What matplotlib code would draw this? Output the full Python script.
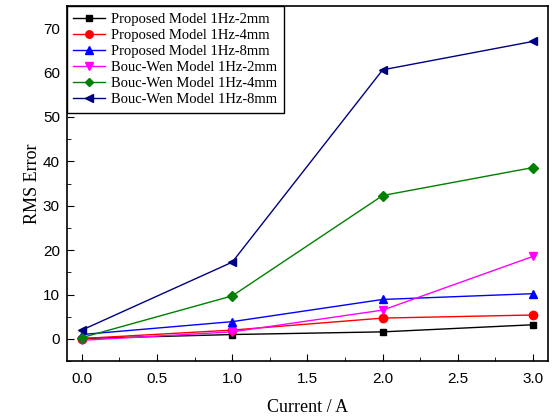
import numpy as np
import matplotlib.pyplot as plt
from matplotlib.ticker import MultipleLocator

current = [0.0, 1.0, 2.0, 3.0]

labels = ['Proposed Model 1Hz-2mm', 'Proposed Model 1Hz-4mm', 'Proposed Model 1Hz-8mm',
          'Bouc-Wen Model 1Hz-2mm', 'Bouc-Wen Model 1Hz-4mm', 'Bouc-Wen Model 1Hz-8mm']
prop_2mm = [0.1, 1.0, 1.6, 3.2]
prop_4mm = [0.1, 2.0, 4.7, 5.4]
prop_8mm = [1.0, 3.9, 8.9, 10.2]
bw_2mm = [-0.3, 1.6, 6.5, 18.6]
bw_4mm = [0.3, 9.7, 32.3, 38.6]
bw_8mm = [2.0, 17.3, 60.6, 67.0]

series = [prop_2mm, prop_4mm, prop_8mm, bw_2mm, bw_4mm, bw_8mm]
colors = ['black', 'red', 'blue', 'magenta', 'green', 'navy']
markers = ['s', 'o', '^', 'v', 'D', '<']
msizes = [5, 6, 6, 6, 5, 6]

fig = plt.figure(figsize=(5.52, 4.19), dpi=100)
ax = fig.add_axes([0.121, 0.138, 0.872, 0.848])

for vals, lab, c, m, ms in zip(series, labels, colors, markers, msizes):
    ax.plot(current, vals, color=c, marker=m, markersize=ms, linewidth=1, label=lab)

ax.set_xlim(-0.1, 3.1)
ax.set_ylim(-5, 75)
ax.xaxis.set_major_locator(MultipleLocator(0.5))
ax.xaxis.set_minor_locator(MultipleLocator(0.25))
ax.yaxis.set_major_locator(MultipleLocator(10))
ax.yaxis.set_minor_locator(MultipleLocator(5))
ax.tick_params(which='both', direction='in', top=False, right=False)
ax.tick_params(which='major', length=5, labelsize=11)
ax.tick_params(axis='x', which='major', pad=8)
ax.tick_params(axis='y', which='major', pad=5)
ax.tick_params(which='minor', length=3)
for lbl in ax.get_xticklabels() + ax.get_yticklabels():
    lbl.set_family('Liberation Sans')
for s in ax.spines.values():
    s.set_linewidth(1.2)

ax.set_xlabel('Current / A', family='Liberation Serif', fontsize=13, labelpad=9)
ax.set_ylabel('RMS Error', family='Liberation Serif', fontsize=13, labelpad=1)

leg = ax.legend(loc='upper left', borderaxespad=0, fancybox=False, framealpha=1,
                prop={'family': 'Liberation Serif', 'size': 10.5},
                handlelength=2.2, handletextpad=0.4, labelspacing=0.2, borderpad=0.45,
                markerscale=0.9)
leg.get_frame().set_edgecolor('black')
leg.get_frame().set_linewidth(1)

fig.savefig('out.png', dpi=100)
